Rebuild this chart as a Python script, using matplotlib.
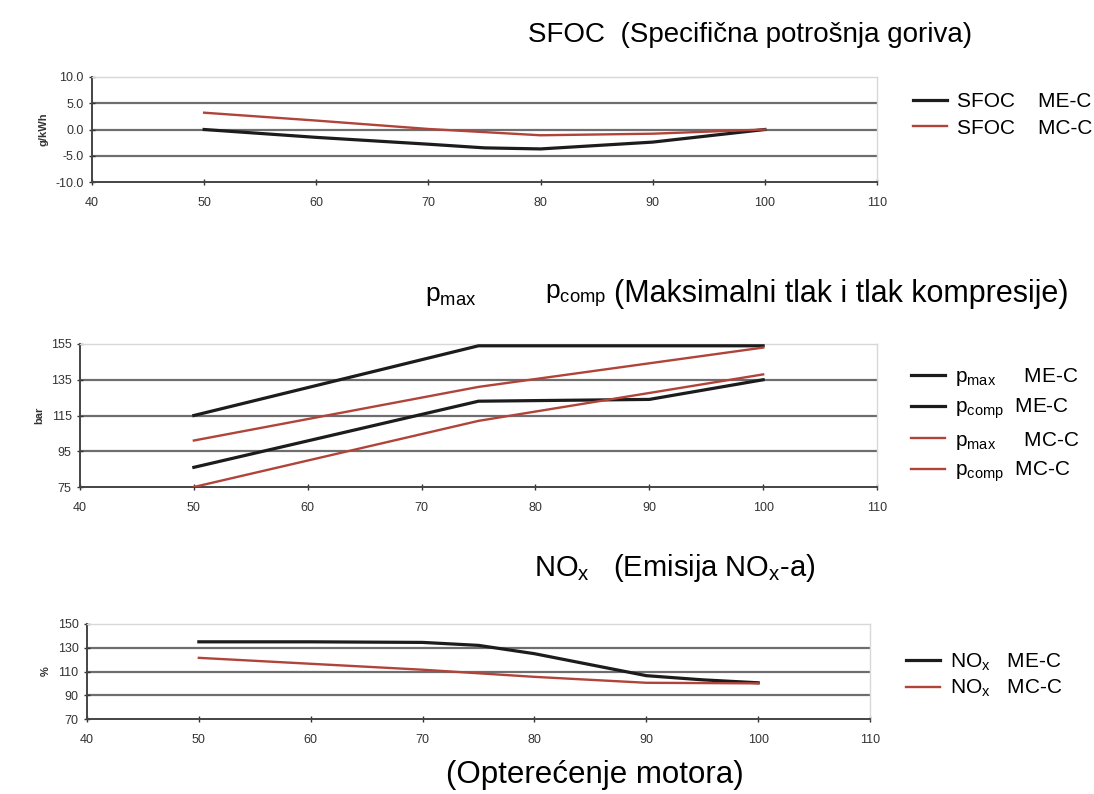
import matplotlib.pyplot as plt

plt.rcParams['font.family'] = ['Liberation Sans', 'DejaVu Sans']

# SFOC (g/kWh)
sfoc_me_x = [50, 60, 70, 75, 80, 90, 100]
sfoc_me_y = [0.0, -1.5, -2.8, -3.5, -3.7, -2.4, 0.0]
sfoc_mc_x = [50, 60, 70, 80, 90, 100]
sfoc_mc_y = [3.2, 1.7, 0.1, -1.1, -0.8, 0.0]

# pressures (bar)
pmax_me_x = [50, 75, 100]
pmax_me_y = [115, 154, 154]
pcomp_me_x = [50, 75, 90, 100]
pcomp_me_y = [86, 123, 124, 135]
pmax_mc_x = [50, 75, 100]
pmax_mc_y = [101, 131, 153]
pcomp_mc_x = [50, 75, 100]
pcomp_mc_y = [75, 112, 138]

# NOx (%)
nox_me_x = [50, 60, 70, 75, 80, 90, 95, 100]
nox_me_y = [135, 135, 134.5, 132, 125, 106.5, 103, 100.5]
nox_mc_x = [50, 60, 70, 80, 90, 100]
nox_mc_y = [121.5, 116.5, 111.5, 105.5, 100.5, 100]

x_ticks = [40, 50, 60, 70, 80, 90, 100, 110]

BLACK = '#1c1c1c'
RED = '#b0443a'
GRID = '#6e6e6e'

W, H = 1094, 794
fig = plt.figure(figsize=(W / 100, H / 100), dpi=100)


def box(l, r, t, b):
    return [l / W, 1 - b / H, (r - l) / W, (b - t) / H]


def style(ax, yticks, ylabels, unit):
    ax.set_xlim(40, 110)
    ax.set_ylim(yticks[0], yticks[-1])
    ax.set_xticks(x_ticks)
    ax.set_yticks(yticks)
    ax.set_yticklabels(ylabels)
    for y in yticks[1:-1]:
        ax.axhline(y, color=GRID, lw=1.6, zorder=1)
    ax.tick_params(labelsize=9, colors='#333333', direction='inout', length=5, width=1)
    ax.tick_params(axis='x', pad=8)
    for s in ['left', 'bottom']:
        ax.spines[s].set_color('#444444')
        ax.spines[s].set_linewidth(1.4)
    for s in ['top', 'right']:
        ax.spines[s].set_color('#d8d8d8')
        ax.spines[s].set_linewidth(1.0)
    ax.set_ylabel(unit, fontsize=8, fontweight='bold', color='#333333', labelpad=5)


def legend(ax, x, y, spacing):
    ax.legend(loc='upper left', bbox_to_anchor=(x / W, 1 - y / H), bbox_transform=fig.transFigure,
              frameon=False, fontsize=15, handlelength=1.6, handletextpad=0.5,
              labelspacing=spacing, borderaxespad=0)


# ---- SFOC ----
ax1 = fig.add_axes(box(92, 877, 77, 182))
ax1.plot(sfoc_me_x, sfoc_me_y, color=BLACK, lw=2.3, label='SFOC    ME-C', zorder=3)
ax1.plot(sfoc_mc_x, sfoc_mc_y, color=RED, lw=1.7, label='SFOC    MC-C', zorder=3)
style(ax1, [-10, -5, 0, 5, 10], ['-10.0', '-5.0', '0.0', '5.0', '10.0'], 'g/kWh')
legend(ax1, 905, 84, 0.35)
fig.text(750 / W, 1 - 35 / H, 'SFOC  (Specifična potrošnja goriva)', fontsize=20,
         ha='center', va='center')

# ---- pressures ----
ax2 = fig.add_axes(box(80, 877, 344, 487))
ax2.plot(pmax_me_x, pmax_me_y, color=BLACK, lw=2.3, label=r'$\mathregular{p_{max}}$     ME-C', zorder=3)
ax2.plot(pcomp_me_x, pcomp_me_y, color=BLACK, lw=2.3, label=r'$\mathregular{p_{comp}}$  ME-C', zorder=3)
ax2.plot(pmax_mc_x, pmax_mc_y, color=RED, lw=1.7, label=r'$\mathregular{p_{max}}$     MC-C', zorder=3)
ax2.plot(pcomp_mc_x, pcomp_mc_y, color=RED, lw=1.7, label=r'$\mathregular{p_{comp}}$  MC-C', zorder=3)
style(ax2, [75, 95, 115, 135, 155], ['75', '95', '115', '135', '155'], 'bar')
legend(ax2, 903, 358, 0.4)
fig.text(425 / W, 1 - 296 / H, r'$\mathregular{p_{max}}$', fontsize=19, ha='left', va='center')
fig.text(545 / W, 1 - 296 / H, r'$\mathregular{p_{comp}}$', fontsize=19, ha='left', va='center')
fig.text(614 / W, 1 - 294 / H, '(Maksimalni tlak i tlak kompresije)',
         fontsize=22, ha='left', va='center')

# ---- NOx ----
ax3 = fig.add_axes(box(87, 870, 624, 719))
ax3.plot(nox_me_x, nox_me_y, color=BLACK, lw=2.3, label=r'$\mathregular{NO_x}$   ME-C', zorder=3)
ax3.plot(nox_mc_x, nox_mc_y, color=RED, lw=1.7, label=r'$\mathregular{NO_x}$   MC-C', zorder=3)
style(ax3, [70, 90, 110, 130, 150], ['70', '90', '110', '130', '150'], '%')
legend(ax3, 898, 643, 0.25)
fig.text(675 / W, 1 - 568 / H, r'$\mathregular{NO_x}$   (Emisija $\mathregular{NO_x}$-a)', fontsize=21,
         ha='center', va='center')
fig.text(595 / W, 1 - 775 / H, '(Opterećenje motora)', fontsize=22.5, ha='center', va='center')

fig.savefig('out.png', dpi=100)
